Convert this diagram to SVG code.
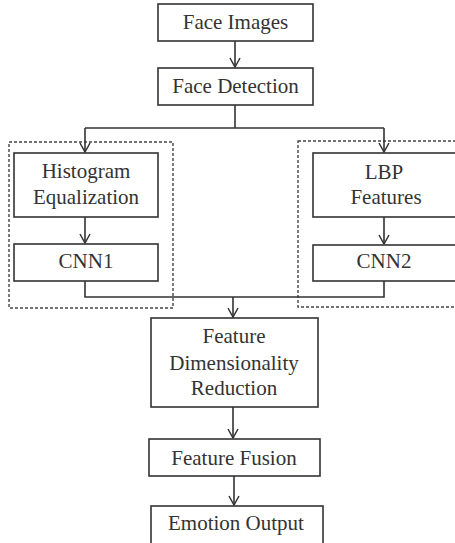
<svg xmlns="http://www.w3.org/2000/svg" width="455" height="543" viewBox="0 0 455 543">
  <defs>
    <marker id="arrow" viewBox="0 0 12 12" refX="11" refY="6" markerWidth="12" markerHeight="12" markerUnits="userSpaceOnUse" orient="auto">
      <polyline points="2,1 11,6 2,11" fill="none" stroke="#333" stroke-width="1.5"/>
    </marker>
  </defs>
  <style>
    .box { fill: #fff; stroke: #333; stroke-width: 1.6; }
    .group { fill: none; stroke: #444; stroke-width: 1.4; stroke-dasharray: 3 2; }
    .link { fill: none; stroke: #333; stroke-width: 1.6; }
    .label { fill: #333; text-anchor: middle; }
  </style>
  <rect width="455" height="543" fill="#fff"/>

  <!-- dashed branch groups -->
  <g id="branch-left"><rect class="group" x="9" y="142" width="164" height="166"/></g>
  <g id="branch-right"><rect class="group" x="298" y="141" width="165" height="166"/></g>

  <!-- connectors -->
  <g id="connectors">
    <line class="link" x1="235" y1="41" x2="235" y2="67" marker-end="url(#arrow)"/>
    <polyline class="link" points="235,105 235,128"/>
    <polyline class="link" points="85,128 384,128"/>
    <line class="link" x1="85" y1="128" x2="85" y2="152" marker-end="url(#arrow)"/>
    <line class="link" x1="384" y1="128" x2="384" y2="152" marker-end="url(#arrow)"/>
    <line class="link" x1="85" y1="217" x2="85" y2="243" marker-end="url(#arrow)"/>
    <line class="link" x1="384" y1="217" x2="384" y2="244" marker-end="url(#arrow)"/>
    <polyline class="link" points="85,281 85,297 384,297 384,281"/>
    <line class="link" x1="233" y1="297" x2="233" y2="317" marker-end="url(#arrow)"/>
    <line class="link" x1="233" y1="407" x2="233" y2="438" marker-end="url(#arrow)"/>
    <line class="link" x1="234" y1="476" x2="234" y2="505" marker-end="url(#arrow)"/>
  </g>

  <g font-family="Liberation Serif, serif" font-size="21">
    <g id="face-images">
      <rect class="box" x="158" y="4" width="155" height="37"/>
      <text class="label" x="235.5" y="29">Face Images</text>
    </g>
    <g id="face-detection">
      <rect class="box" x="158" y="68" width="155" height="37"/>
      <text class="label" x="235.5" y="93">Face Detection</text>
    </g>
    <g id="histogram-equalization">
      <rect class="box" x="14" y="153" width="144" height="64"/>
      <text class="label" x="86" y="178">Histogram</text>
      <text class="label" x="86" y="204">Equalization</text>
    </g>
    <g id="cnn1">
      <rect class="box" x="14" y="244" width="144" height="37"/>
      <text class="label" x="86" y="268">CNN1</text>
    </g>
    <g id="lbp-features">
      <rect class="box" x="313" y="153" width="145" height="64"/>
      <text class="label" x="384" y="179">LBP</text>
      <text class="label" x="386" y="204">Features</text>
    </g>
    <g id="cnn2">
      <rect class="box" x="313" y="245" width="145" height="36"/>
      <text class="label" x="384" y="268">CNN2</text>
    </g>
    <g id="feature-dimensionality-reduction">
      <rect class="box" x="151" y="318" width="167" height="89"/>
      <text class="label" x="234" y="343">Feature</text>
      <text class="label" x="234" y="370">Dimensionality</text>
      <text class="label" x="234" y="395">Reduction</text>
    </g>
    <g id="feature-fusion">
      <rect class="box" x="149" y="439" width="171" height="37"/>
      <text class="label" x="234" y="465">Feature Fusion</text>
    </g>
    <g id="emotion-output">
      <rect class="box" x="151" y="506" width="172" height="40"/>
      <text class="label" x="236" y="530">Emotion Output</text>
    </g>
  </g>
</svg>
